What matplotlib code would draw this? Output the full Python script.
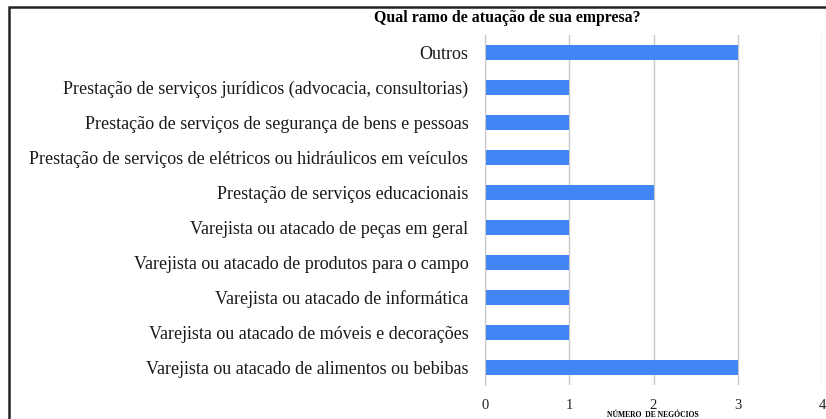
import matplotlib
matplotlib.use("Agg")
import matplotlib.pyplot as plt
from matplotlib.patches import Rectangle

categories = [
    "Outros",
    "Prestação de serviços jurídicos (advocacia, consultorias)",
    "Prestação de serviços de segurança de bens e pessoas",
    "Prestação de serviços de elétricos ou hidráulicos em veículos",
    "Prestação de serviços educacionais",
    "Varejista ou atacado de peças em geral",
    "Varejista ou atacado de produtos para o campo",
    "Varejista ou atacado de informática",
    "Varejista ou atacado de móveis e decorações",
    "Varejista ou atacado de alimentos ou bebibas",
]
values = [3, 1, 1, 1, 2, 1, 1, 1, 1, 3]
xticks = [0, 1, 2, 3, 4]
title = "Qual ramo de atuação de sua empresa?"
xlabel = "NÚMERO  DE NEGÓCIOS"

W, H = 826, 419
fig = plt.figure(figsize=(W / 100, H / 100), dpi=100)
serif = ["Liberation Serif", "DejaVu Serif"]

ax = fig.add_axes([485 / W, 1 - 385 / H, (822 - 485) / W, (385 - 35) / H])
ypos = list(range(len(categories)))
ax.barh(ypos, values, height=0.43, color="#4285F4", zorder=3)
ax.set_ylim(len(categories) - 0.5, -0.5)
ax.set_xlim(0, 4)
ax.set_xticks(xticks)
ax.set_xticklabels([str(t) for t in xticks], fontfamily=serif, fontsize=10.5,
                   color="#222222")
ax.set_yticks(ypos)
ax.set_yticklabels(categories, fontfamily=serif, fontsize=13, color="#1a1a1a")
ax.tick_params(axis="both", length=0)
ax.tick_params(axis="y", pad=12)
ax.tick_params(axis="x", pad=10)
ax.grid(axis="x", color="#c8c8c8", linewidth=1, zorder=0)
for s in ["top", "right", "bottom"]:
    ax.spines[s].set_visible(False)
ax.spines["left"].set_color("#c8c8c8")
ax.spines["left"].set_zorder(4)

fig.text(507 / W, 1 - 18 / H, title, ha="center", va="center",
         fontfamily=serif, fontsize=11.4, fontweight="bold")
fig.text(653 / W, 1 - 415 / H, xlabel, ha="center", va="center",
         fontfamily=serif, fontsize=5.5, fontweight="bold")

fig.patches.append(Rectangle((9 / W, -0.1), 1.2, 1.1 - 7 / H + 0.0,
                             transform=fig.transFigure, fill=False,
                             edgecolor="#222222", linewidth=1.8))

fig.savefig("out.png", dpi=100)
